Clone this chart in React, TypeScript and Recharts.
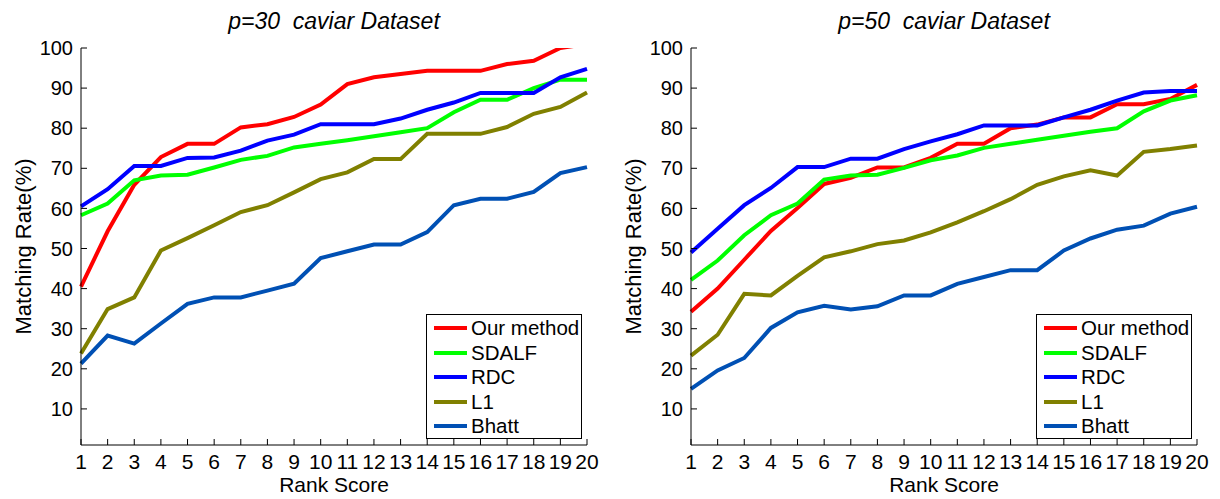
import { LineChart, Line, XAxis, YAxis, Legend } from "recharts"

const ranks = [1, 2, 3, 4, 5, 6, 7, 8, 9, 10, 11, 12, 13, 14, 15, 16, 17, 18, 19, 20]
const yTicks = [10, 20, 30, 40, 50, 60, 70, 80, 90, 100]

// p=30 (last "Our method" point runs past the top of the axes and is clipped)
const ours30 = [40.5, 54.3, 65.9, 72.8, 76.1, 76.1, 80.2, 81.0, 82.8, 85.9, 91.0, 92.7, 93.5, 94.3, 94.3, 94.3, 96.0, 96.8, 100, 101]
const sdalf30 = [58.3, 61.2, 67.0, 68.2, 68.4, 70.2, 72.1, 73.1, 75.2, 76.1, 77.0, 78.0, 79.0, 80.0, 84.0, 87.1, 87.1, 90.0, 92.1, 92.1]
const rdc30 = [60.5, 64.8, 70.6, 70.6, 72.6, 72.7, 74.4, 76.9, 78.4, 81.0, 81.0, 81.0, 82.4, 84.6, 86.4, 88.8, 88.8, 88.8, 92.7, 94.8]
const l130 = [23.8, 34.9, 37.8, 49.5, 52.6, 55.8, 59.1, 60.8, 64.0, 67.3, 69.0, 72.3, 72.3, 78.6, 78.6, 78.6, 80.3, 83.6, 85.3, 88.9]
const bhatt30 = [21.3, 28.3, 26.3, 31.3, 36.2, 37.8, 37.8, 39.5, 41.2, 47.6, 49.3, 51.0, 51.0, 54.1, 60.8, 62.4, 62.4, 64.1, 68.8, 70.3]

// p=50
const ours50 = [34.2, 40.0, 47.2, 54.4, 60.1, 66.1, 67.6, 70.2, 70.2, 72.6, 76.1, 76.1, 80.0, 80.9, 82.7, 82.7, 86.0, 86.0, 87.3, 90.8]
const sdalf50 = [42.2, 47.0, 53.3, 58.3, 61.2, 67.2, 68.2, 68.4, 70.1, 72.0, 73.2, 75.1, 76.1, 77.1, 78.1, 79.1, 80.0, 84.2, 86.9, 88.2]
const rdc50 = [49.0, 54.9, 60.8, 65.1, 70.3, 70.3, 72.4, 72.4, 74.8, 76.7, 78.5, 80.7, 80.7, 80.7, 82.7, 84.6, 86.9, 88.9, 89.3, 89.3]
const l150 = [23.3, 28.5, 38.7, 38.3, 43.2, 47.8, 49.3, 51.1, 52.0, 54.0, 56.5, 59.3, 62.3, 65.9, 68.0, 69.5, 68.2, 74.1, 74.8, 75.7]
const bhatt50 = [15.0, 19.6, 22.7, 30.2, 34.1, 35.7, 34.8, 35.6, 38.3, 38.3, 41.2, 42.9, 44.6, 44.6, 49.5, 52.5, 54.7, 55.7, 58.7, 60.4]

const seriesNames = ["Our method", "SDALF", "RDC", "L1", "Bhatt"]
const seriesColors = ["#ff0000", "#00ff00", "#0000ff", "#808000", "#0050b4"]

const FONT = '"Liberation Sans", Arial, Helvetica, sans-serif'

// legend keeps the plotting order (recharts would sort by name)
function renderLegend() {
  return (
    <div
      style={{
        width: 156,
        height: 125,
        boxSizing: "border-box",
        border: "1px solid #000",
        background: "#fff",
        paddingTop: 1,
        fontFamily: FONT,
        fontSize: 20.5,
        color: "#000",
      }}
    >
      {seriesNames.map((name, k) => (
        <div key={name} style={{ display: "flex", alignItems: "center", height: 24.5 }}>
          <div style={{ marginLeft: 7, width: 33, height: 4, background: seriesColors[k] }} />
          <span style={{ marginLeft: 4, whiteSpace: "nowrap" }}>{name}</span>
        </div>
      ))}
    </div>
  )
}

function Panel({ title, series, left }: { title: string; series: number[][]; left: number }) {
  const data = ranks.map((r, i) => {
    const row: any = { rank: r }
    series.forEach((s, k) => {
      row["s" + k] = s[i]
    })
    return row
  })
  const tickStyle = { fontSize: 21, fill: "#000", fontFamily: FONT }
  return (
    <div style={{ position: "absolute", left, top: 0, width: 610, height: 499 }}>
      <div
        style={{
          position: "absolute",
          left: 81,
          top: 8,
          width: 506,
          textAlign: "center",
          fontFamily: FONT,
          fontStyle: "italic",
          fontSize: 23,
          lineHeight: "26px",
          whiteSpace: "pre",
          color: "#000",
        }}
      >
        {title}
      </div>
      <LineChart width={610} height={499} data={data} margin={{ top: 48, right: 23, bottom: 0, left: 0 }}>
        <XAxis
          dataKey="rank"
          type="number"
          domain={[1, 20]}
          ticks={ranks}
          interval={0}
          height={54}
          tickSize={-6}
          tickMargin={15}
          tick={tickStyle}
          stroke="#000"
          label={{ value: "Rank Score", position: "insideBottom", offset: 7, fontSize: 21, fill: "#000", fontFamily: FONT }}
        />
        <XAxis
          xAxisId="top"
          orientation="top"
          dataKey="rank"
          type="number"
          domain={[1, 20]}
          ticks={ranks}
          interval={0}
          height={0}
          tickSize={-6}
          tickFormatter={() => ""}
          stroke="#000"
        />
        <YAxis
          type="number"
          domain={[1, 100]}
          ticks={yTicks}
          interval={0}
          width={81}
          tickSize={-6}
          tickMargin={14}
          tick={{ ...tickStyle, fontSize: 20 }}
          stroke="#000"
          allowDataOverflow
          label={{
            value: "Matching Rate(%)",
            angle: -90,
            position: "insideLeft",
            offset: 23,
            fontSize: 22,
            fill: "#000",
            fontFamily: FONT,
            style: { textAnchor: "middle" },
          }}
        />
        <YAxis
          yAxisId="right"
          orientation="right"
          type="number"
          domain={[1, 100]}
          ticks={yTicks}
          interval={0}
          width={0}
          tickSize={-6}
          tickFormatter={() => ""}
          stroke="#000"
        />
        <Legend
          layout="vertical"
          align="center"
          verticalAlign="middle"
          wrapperStyle={{ position: "absolute", left: 426, top: 314, width: 156, height: 125 }}
          content={renderLegend}
        />
        {series.map((_, k) => (
          <Line
            key={k}
            type="linear"
            dataKey={"s" + k}
            name={seriesNames[k]}
            stroke={seriesColors[k]}
            strokeWidth={4}
            dot={false}
            activeDot={false}
            isAnimationActive={false}
          />
        ))}
      </LineChart>
    </div>
  )
}

export default function App() {
  return (
    <div style={{ position: "absolute", left: 0, top: 0, width: 1220, height: 499, background: "#fff" }}>
      <Panel title={"p=30  caviar Dataset"} series={[ours30, sdalf30, rdc30, l130, bhatt30]} left={0} />
      <Panel title={"p=50  caviar Dataset"} series={[ours50, sdalf50, rdc50, l150, bhatt50]} left={610} />
    </div>
  )
}
